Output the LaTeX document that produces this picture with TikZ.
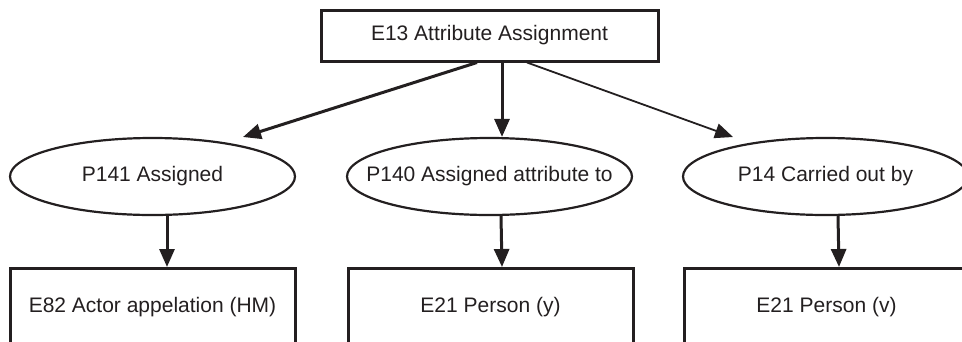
\documentclass[tikz,border=0pt]{standalone}
\usepackage{fontspec}
\setmainfont{Liberation Sans}
\usetikzlibrary{arrows.meta,shapes.geometric}
\definecolor{ink}{HTML}{231F20}
\begin{document}
\begin{tikzpicture}[x=1pt,y=-1pt,
  every node/.style={font=\fontsize{21}{25}\selectfont, text=ink},
  topbox/.style={draw=ink, line width=3pt, minimum width=337pt, minimum height=51pt, inner sep=0pt},
  ell/.style={draw=ink, ellipse, line width=2.2pt, minimum width=285pt, minimum height=77pt, inner sep=0pt},
  botbox/.style={draw=ink, line width=3pt, minimum width=285pt, minimum height=120pt, inner sep=0pt, anchor=north},
  arr/.style={draw=ink, line width=3pt, -{Triangle[length=18pt,width=15pt]}},
  thinarr/.style={draw=ink, line width=1.8pt, -{Triangle[length=18pt,width=15pt]}}
]
\useasboundingbox (0,0) rectangle (962,341);
\clip (0,0) rectangle (962,341);

\node[topbox] (e13) at (489.5,35.5) {E13 Attribute Assignment};

\node[ell, label={center:P141 Assigned}] (p141) at (152.5,176.5) {};
\node[ell, label={center:P140 Assigned attribute to}] (p140) at (489.5,176.5) {};
\node[ell, label={center:P14 Carried out by}] (p14) at (825.5,176.5) {};

\node[botbox, label={[anchor=center,yshift=-40pt]north:E82 Actor appelation (HM)}] (e82) at (152.5,267) {};
\node[botbox, label={[anchor=center,yshift=-40pt]north:E21 Person (y)}] (e21y) at (490.5,267) {};
\node[botbox, label={[anchor=center,yshift=-40pt]north:E21 Person (v)}] (e21v) at (826.5,267) {};

\coordinate (tipl) at (243,137);
\coordinate (tipr) at (733,137);

\draw[arr] ([xshift=-12.5pt]e13.south) -- (tipl);
\draw[arr] ([xshift=12.5pt]e13.south) -- ([xshift=12.5pt]p140.north);
\draw[thinarr] ([xshift=37.5pt]e13.south) -- (tipr);

\draw[arr] ([xshift=14.5pt]p141.south) -- ([xshift=14.5pt]e82.north);
\draw[arr] ([xshift=11.5pt]p140.south) -- ([xshift=11.5pt]e21y.north);
\draw[arr] ([xshift=12.5pt]p14.south) -- ([xshift=12.5pt]e21v.north);
\end{tikzpicture}
\end{document}
